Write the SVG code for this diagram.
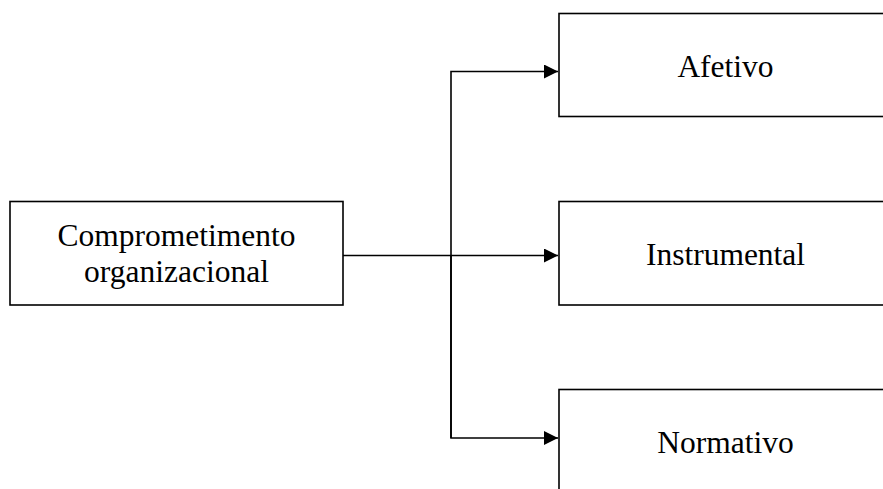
<svg xmlns="http://www.w3.org/2000/svg" width="883" height="489" viewBox="0 0 883 489">
<defs>
<style>
.box{fill:#fff;stroke:#000;stroke-width:1.6}
.lbl{font-family:"Liberation Serif","Times New Roman",serif;font-size:31.5px;fill:#000;text-anchor:middle}
.con{fill:none;stroke:#000;stroke-width:1.6}
</style>
<marker id="arr" viewBox="0 0 14 14" refX="14" refY="7" markerWidth="14" markerHeight="14" markerUnits="userSpaceOnUse" orient="auto">
<path d="M0,0 L14,7 L0,14 Z" fill="#000"/>
</marker>
</defs>
<rect width="883" height="489" fill="#fff"/>
<g id="connectors">
<path class="con" d="M343,255.5 H558" marker-end="url(#arr)"/>
<path class="con" d="M451,438 V71.5 H558" marker-end="url(#arr)"/>
<path class="con" d="M451,255 V438 H558" marker-end="url(#arr)"/>
</g>
<g id="node-comprometimento">
<rect class="box" x="10" y="201.5" width="333" height="103.5"/>
<text class="lbl" x="176.5" y="246">Comprometimento</text>
<text class="lbl" x="176.5" y="282">organizacional</text>
</g>
<g id="node-afetivo">
<rect class="box" x="559" y="13.5" width="333" height="103"/>
<text class="lbl" x="725.5" y="77">Afetivo</text>
</g>
<g id="node-instrumental">
<rect class="box" x="559" y="201.5" width="333" height="103.5"/>
<text class="lbl" x="725.5" y="265">Instrumental</text>
</g>
<g id="node-normativo">
<rect class="box" x="559" y="389.5" width="333" height="103.5"/>
<text class="lbl" x="725.5" y="453">Normativo</text>
</g>
</svg>
